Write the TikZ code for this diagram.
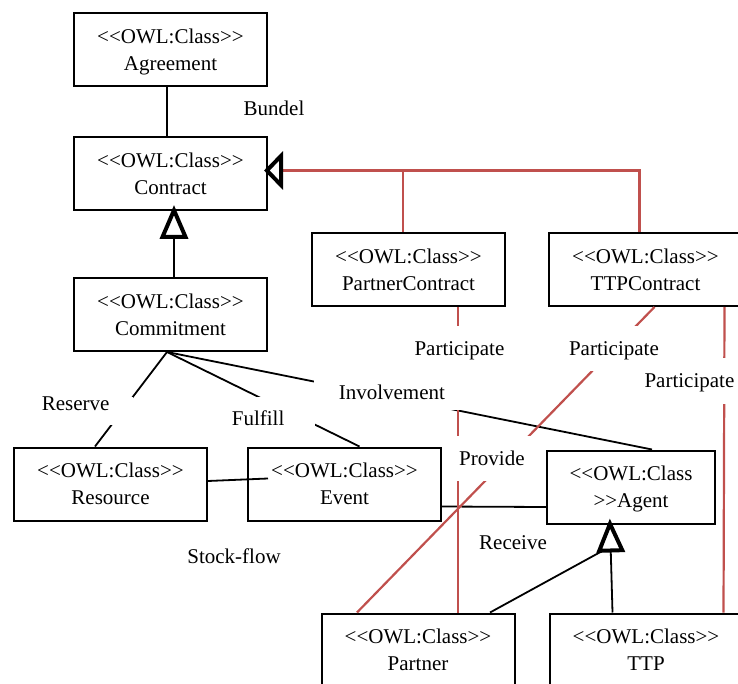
\documentclass[tikz,border=0pt]{standalone}
\usepackage{fontspec}
\setmainfont{Liberation Serif}
\usetikzlibrary{arrows.meta,positioning}
\definecolor{partred}{HTML}{C0504D}
\newcommand{\owlcls}{<{}<OWL:Class>{}>}
\tikzset{every picture/.style={line width=1.8pt}}
\tikzset{
    owl/.style={draw, line width=2pt, minimum width=193pt, minimum height=73pt, inner sep=0pt, align=center, text depth=0pt},
    part/.style={line width=2.2pt, draw=partred},
    gap/.style={fill=white, inner sep=0pt, anchor=north west, align=center},
    gen/.style={-{Triangle[color=black, fill=white, line width=4pt, length=34pt, width=28pt]}, shorten >=-6pt},
    gensub/.style={-{Triangle[color=black, fill=white, line width=4pt, length=19pt, width=38pt]}, shorten >=-4pt},
}

\begin{document}
\begin{tikzpicture}[x=1pt, y=-1pt, every node/.style={font=\fontsize{21}{27}\selectfont}]
    \clip (0,0) rectangle (738,684);
    \node[owl] (agreement) at (170.5,49.5) {\owlcls\\Agreement};
    \node[owl, below=49pt of agreement] (contract) {\owlcls\\Contract};
    \node[owl, below=66pt of contract] (commitment) {\owlcls\\Commitment};
    \node[owl] (partnercontract) at (408.5,269.5) {\owlcls\\PartnerContract};
    \node[owl, right=42pt of partnercontract] (ttpcontract) {\owlcls\\TTPContract};
    \node[owl] (resource) at (110.5,484) {\owlcls\\Resource};
    \node[owl, right=39pt of resource] (event) {\owlcls\\Event};
    \node[owl, minimum width=168pt] (agent) at (631,487) {<{}<OWL:Class\\>{}>Agent};
    \node[owl] (partner) at (418,650) {\owlcls\\Partner};
    \node[owl, right=33pt of partner] (ttp) {\owlcls\\TTP};
    \coordinate (genjoin) at ([xshift=-26pt,yshift=-25pt]agent.south);

    \draw ([xshift=-3.5pt]agreement.south) -- ([xshift=-3.5pt]contract.north);
    \draw[gen] ([xshift=3.5pt]commitment.north) -- ([xshift=3.5pt]contract.south);
    \draw[part] ([xshift=-5.5pt]partnercontract.north) |- ([yshift=3pt]contract.east);
    \draw[part, gensub] ([xshift=-6pt]ttpcontract.north) |- ([yshift=3pt]contract.east);
    \draw ([xshift=-3.5pt]commitment.south) -- ([xshift=-15.5pt]resource.north);
    \draw ([xshift=-3.5pt]commitment.south) -- ([xshift=15pt]event.north);
    \draw ([xshift=-3.5pt]commitment.south) -- ([xshift=21pt]agent.north);
    \draw ([yshift=3pt]resource.east) -- ([xshift=21pt,yshift=5.5pt]event.west);
    \draw ([yshift=-22.5pt]event.east) -- ([yshift=-20pt]agent.west);
    \draw ([xshift=72pt]partner.north) -- (genjoin);
    \draw[gen] ([xshift=-33.5pt]ttp.north) -- ([xshift=-21pt]agent.south);
    \draw[part] ([xshift=49.5pt]partnercontract.south) -- ([xshift=40pt]partner.north);
    \draw[part] ([xshift=9pt]ttpcontract.south) -- ([xshift=-61pt]partner.north);
    \draw[part] ([xshift=79pt]ttpcontract.south) -- ([xshift=77.5pt]ttp.north);

    \node[inner sep=0pt] (bundel) at (274,108) {Bundel};
    \node[gap, align=left, text width=91pt, text height=14pt, text depth=14pt] (reserve) at (41,396) {Reserve};
    \node[gap, align=left, text width=83pt, text height=29pt, text depth=5pt] (fulfill) at (231,396) {Fulfill};
    \node[gap, text width=91pt, text height=30pt, text depth=21pt] (participate1) at (413,325) {Participate};
    \node[gap, text width=156pt, text height=23pt, text depth=10pt] (involvement) at (313,376) {Involvement};
    \node[gap, text width=90pt, text height=30pt, text depth=15pt] (participate2) at (568,325) {Participate};
    \node[gap, text width=91pt, text height=30pt, text depth=16pt] (participate3) at (643,357) {Participate};
    \node[gap, text width=98pt, text height=30pt, text depth=15pt] (provide) at (442,435) {Provide};
    \node[inner sep=0pt] (receive) at (513,543) {Receive};
    \node[inner sep=0pt] (stockflow) at (234,556) {Stock-flow};
\end{tikzpicture}
\end{document}
